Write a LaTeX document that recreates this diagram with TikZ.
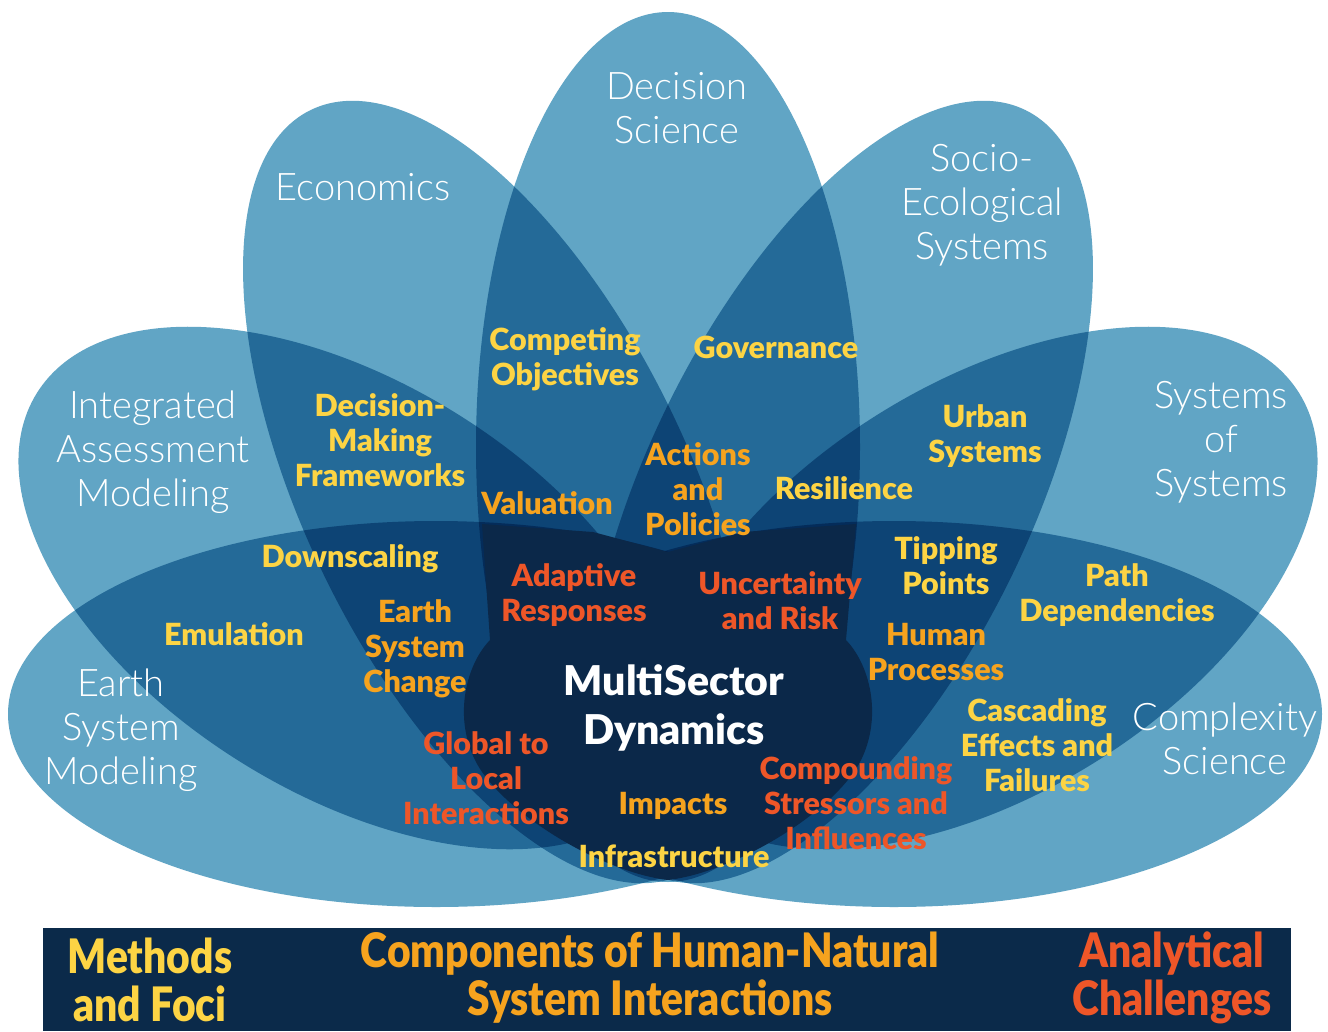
\documentclass[tikz,border=0pt]{standalone}
\usepackage{fontspec}
\newfontfamily\petalfont{Lato Light}
\newfontfamily\labfont{Lato Black}
\newfontfamily\bannerfont{Lato Black}[FakeStretch=0.86]
\definecolor{petal}{RGB}{97,165,197}
\definecolor{navy}{RGB}{11,40,73}
\definecolor{banner}{RGB}{11,42,74}
\definecolor{cyel}{RGB}{253,212,68}
\definecolor{corg}{RGB}{246,163,30}
\definecolor{cred}{RGB}{238,86,40}
\tikzset{
  petalshape/.style={fill=petal},
  petalname/.style={text=white, align=center, inner sep=0pt, font=\petalfont\fontsize{38}{44}\selectfont},
  meth/.style={text=cyel, align=center, inner sep=0pt, font=\labfont\fontsize{30.5}{35}\selectfont},
  comp/.style={text=corg, align=center, inner sep=0pt, font=\labfont\fontsize{30.5}{35}\selectfont},
  chal/.style={text=cred, align=center, inner sep=0pt, font=\labfont\fontsize{30.5}{35}\selectfont},
  bannertext/.style={align=center, inner sep=0pt, font=\bannerfont\fontsize{47.5}{48}\selectfont},
}
\begin{document}
\begin{tikzpicture}[x=1pt,y=-1pt]
\useasboundingbox (0,0) rectangle (1328,1031);
\fill[white] (0,0) rectangle (1328,1031);
% petals
\begin{scope}[blend group=multiply]
  \fill[petalshape] (668,447) ellipse [x radius=192, y radius=435];
  \fill[petalshape, shift={(497,492)}, rotate=116] (0,0) ellipse [x radius=425, y radius=192];
  \fill[petalshape, shift={(839,492)}, rotate=64] (0,0) ellipse [x radius=425, y radius=192];
  \fill[petalshape, shift={(349,588)}, rotate=148] (0,0) ellipse [x radius=368, y radius=205];
  \fill[petalshape, shift={(987,588)}, rotate=32] (0,0) ellipse [x radius=368, y radius=205];
  \fill[petalshape] (436,714) ellipse [x radius=428, y radius=193];
  \fill[petalshape] (894,714) ellipse [x radius=428, y radius=193];
\end{scope}
% central blob
\fill[navy] (482,524) -- (593,532) -- (668,552) -- (743,532) -- (856,524)
  -- (846,640)
  .. controls (870,665) and (882,715) .. (862,758)
  .. controls (838,810) and (736,872) .. (668,880)
  .. controls (600,872) and (498,810) .. (474,758)
  .. controls (454,715) and (466,665) .. (490,640) -- cycle;
% banner
\fill[banner] (43,928) rectangle (1291,1031);

% petal names
\node[petalname] (ds) at (677,108) {Decision\\Science};
\node[petalname] (eco) at (363,187) {Economics};
\node[petalname] (ses) at (982,205) {Socio-\\Ecological\\Systems};
\node[petalname] (iam) at (153,452) {Integrated\\Assessment\\Modeling};
\node[petalname] (sos) at (1221,442) {Systems\\of\\Systems};
\node[petalname] (esm) at (121,730) {Earth\\System\\Modeling};
\node[petalname] (cs) at (1225,739) {Complexity\\Science};

% labels
\node[meth] (co) at (565,359) {Competing\\Objectives};
\node[meth] (gov) at (776,347) {Governance};
\node[meth] (dmf) at (380,440) {Decision-\\Making\\Frameworks};
\node[meth] (urb) at (985,436) {Urban\\Systems};
\node[comp] (ap) at (698,489) {Actions\\and\\Policies};
\node[comp] (val) at (547,503) {Valuation};
\node[meth] (res) at (844,488) {Resilience};
\node[meth] (dwn) at (350,559) {Downscaling};
\node[meth] (tip) at (946,566) {Tipping\\Points};
\node[meth] (path) at (1117,595) {Path\\Dependencies};
\node[chal] (adr) at (574,595) {Adaptive\\Responses};
\node[chal] (unc) at (780,601) {Uncertainty\\and Risk};
\node[meth] (emu) at (234,634) {Emulation};
\node[comp] (esc) at (415,649) {Earth\\System\\Change};
\node[comp] (hum) at (936,652) {Human\\Processes};
\node[text=white, align=center, inner sep=0pt, font=\labfont\fontsize{41}{49}\selectfont] (msd) at (674,708) {MultiSector\\Dynamics};
\node[meth] (cas) at (1037,745) {Cascading\\Effects and\\Failures};
\node[chal] (glo) at (486,778) {Global to\\Local\\Interactions};
\node[chal] (cmp) at (856,803) {Compounding\\Stressors and\\Influences};
\node[comp] (imp) at (673,806) {Impacts};
\node[meth] (inf) at (674,856) {Infrastructure};

% banner text
\node[bannertext, text=cyel] (bm) at (150,980) {Methods\\and Foci};
\node[bannertext, text=corg] (bc) at (650,978) {Components of Human-Natural\\System Interactions};
\node[bannertext, text=cred] (ba) at (1172,978) {Analytical\\Challenges};
\end{tikzpicture}
\end{document}
